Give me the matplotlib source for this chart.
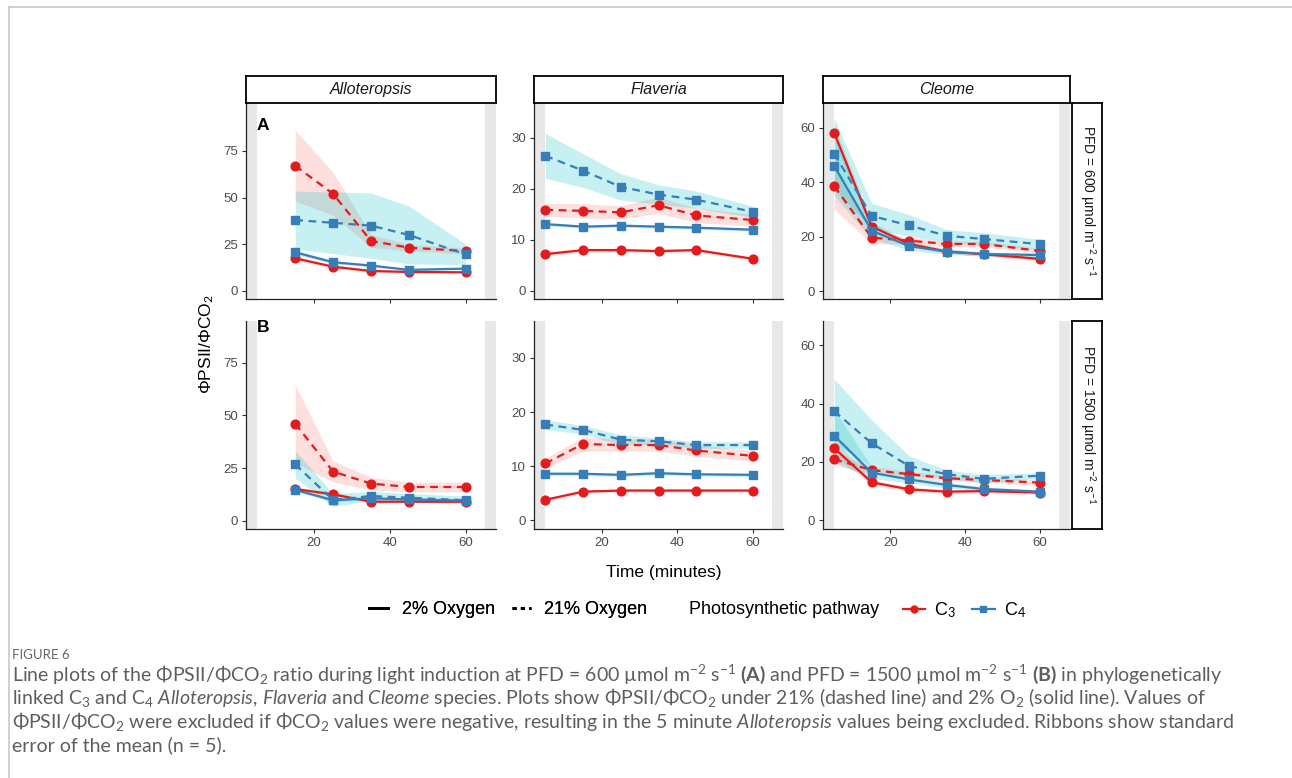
import numpy as np
import matplotlib
matplotlib.use('Agg')
import matplotlib.pyplot as plt
from matplotlib.lines import Line2D

plt.rcParams['font.family'] = ['Liberation Sans', 'DejaVu Sans']
plt.rcParams['mathtext.fontset'] = 'custom'
plt.rcParams['mathtext.rm'] = 'Lato'
plt.rcParams['mathtext.it'] = 'Lato:italic'
plt.rcParams['mathtext.bf'] = 'Lato:bold'

W, H = 1292, 778

# time points (minutes); 5 min Alloteropsis values were excluded
times_allo = [15, 25, 35, 45, 60]
times = [5, 15, 25, 35, 45, 60]

# ---- Alloteropsis, PFD 600 ----
allo600_c3_2 = [17.5, 13.0, 10.7, 10.2, 10.0]
allo600_c3_2_se = [1.2, 1.0, 0.6, 0.5, 0.5]
allo600_c3_21 = [67.1, 52.0, 26.8, 23.2, 21.4]
allo600_c3_21_se = [19.0, 11.5, 3.5, 1.8, 1.5]
allo600_c4_2 = [20.7, 15.4, 13.6, 11.3, 12.0]
allo600_c4_2_se = [1.2, 0.8, 0.6, 0.5, 0.6]
allo600_c4_21 = [38.0, 36.5, 35.0, 30.0, 19.6]
allo600_c4_21_se = [15.5, 16.5, 17.5, 15.5, 5.5]

# ---- Alloteropsis, PFD 1500 ----
allo1500_c3_2 = [15.0, 12.5, 9.0, 9.0, 9.0]
allo1500_c3_2_se = [1.0, 1.0, 0.6, 0.5, 0.5]
allo1500_c3_21 = [46.0, 23.3, 17.6, 16.0, 16.0]
allo1500_c3_21_se = [18.5, 5.0, 3.0, 2.3, 2.3]
allo1500_c4_2 = [14.6, 9.7, 10.6, 10.1, 9.5]
allo1500_c4_2_se = [0.8, 0.8, 0.8, 0.7, 0.6]
allo1500_c4_21 = [26.7, 9.8, 11.7, 10.9, 9.7]
allo1500_c4_21_se = [6.5, 3.0, 2.2, 2.0, 2.0]

# ---- Flaveria, PFD 600 ----
flav600_c3_2 = [7.2, 8.0, 8.0, 7.8, 8.0, 6.3]
flav600_c3_2_se = [0.4, 0.4, 0.4, 0.4, 0.4, 0.3]
flav600_c3_21 = [15.9, 15.7, 15.4, 16.8, 14.8, 13.9]
flav600_c3_21_se = [1.3, 1.4, 1.3, 1.6, 1.4, 1.2]
flav600_c4_2 = [13.1, 12.6, 12.8, 12.6, 12.4, 12.0]
flav600_c4_2_se = [0.3, 0.3, 0.3, 0.3, 0.3, 0.3]
flav600_c4_21 = [26.5, 23.6, 20.4, 18.9, 17.9, 15.5]
flav600_c4_21_se = [4.4, 3.3, 2.6, 1.9, 1.7, 1.1]

# ---- Flaveria, PFD 1500 ----
flav1500_c3_2 = [3.8, 5.3, 5.5, 5.5, 5.5, 5.5]
flav1500_c3_2_se = [0.3, 0.3, 0.3, 0.3, 0.3, 0.3]
flav1500_c3_21 = [10.5, 14.1, 13.9, 13.9, 12.9, 11.9]
flav1500_c3_21_se = [0.9, 1.3, 1.1, 1.1, 1.1, 1.0]
flav1500_c4_2 = [8.6, 8.6, 8.4, 8.7, 8.5, 8.4]
flav1500_c4_2_se = [0.3, 0.3, 0.3, 0.3, 0.3, 0.3]
flav1500_c4_21 = [17.7, 16.7, 14.9, 14.6, 13.9, 13.9]
flav1500_c4_21_se = [0.9, 0.8, 0.9, 0.6, 0.6, 0.6]

# ---- Cleome, PFD 600 ----
cleo600_c3_2 = [58.2, 23.7, 17.3, 14.5, 13.5, 11.8]
cleo600_c3_2_se = [3.0, 1.5, 1.0, 0.8, 0.8, 0.7]
cleo600_c3_21 = [38.5, 19.6, 18.5, 17.3, 17.3, 14.7]
cleo600_c3_21_se = [8.5, 2.2, 1.2, 1.0, 1.0, 1.0]
cleo600_c4_2 = [46.0, 22.2, 16.5, 14.5, 13.6, 13.2]
cleo600_c4_2_se = [11.0, 3.0, 1.5, 1.0, 0.8, 0.8]
cleo600_c4_21 = [50.4, 27.6, 24.1, 20.3, 19.1, 17.2]
cleo600_c4_21_se = [13.0, 4.6, 4.0, 2.3, 2.3, 1.8]

# ---- Cleome, PFD 1500 ----
cleo1500_c3_2 = [24.7, 13.0, 10.6, 9.8, 10.0, 9.5]
cleo1500_c3_2_se = [2.5, 1.0, 0.8, 0.7, 0.7, 0.7]
cleo1500_c3_21 = [20.9, 17.2, 15.8, 14.4, 13.8, 12.9]
cleo1500_c3_21_se = [2.0, 1.3, 1.0, 1.0, 0.8, 1.0]
cleo1500_c4_2 = [29.0, 16.3, 14.0, 12.1, 10.7, 9.8]
cleo1500_c4_2_se = [9.0, 2.0, 1.2, 1.0, 0.7, 0.6]
cleo1500_c4_21 = [37.4, 26.4, 18.6, 15.8, 14.2, 15.3]
cleo1500_c4_21_se = [11.0, 8.0, 3.5, 1.4, 1.5, 0.9]

genera = ['Alloteropsis', 'Flaveria', 'Cleome']
pfd_labels = ['PFD = 600 µmol m$^{-2}$ s$^{-1}$', 'PFD = 1500 µmol m$^{-2}$ s$^{-1}$']

LINE = {'C3': '#E41A1C', 'C4': '#377EB8'}
RIBBON = {'C3': '#F8766D', 'C4': '#00BFC4'}
MARK = {'C3': 'o', 'C4': 's'}
LSTY = {'2': '-', '21': (0, (3.5, 2.5))}
GREY = '#E8E8E8'
TXT = '#4D4D4D'

panels = {
    (0, 0): (times_allo, [('C3', '2', allo600_c3_2, allo600_c3_2_se), ('C3', '21', allo600_c3_21, allo600_c3_21_se),
                          ('C4', '2', allo600_c4_2, allo600_c4_2_se), ('C4', '21', allo600_c4_21, allo600_c4_21_se)]),
    (1, 0): (times_allo, [('C3', '2', allo1500_c3_2, allo1500_c3_2_se), ('C3', '21', allo1500_c3_21, allo1500_c3_21_se),
                          ('C4', '2', allo1500_c4_2, allo1500_c4_2_se), ('C4', '21', allo1500_c4_21, allo1500_c4_21_se)]),
    (0, 1): (times, [('C3', '2', flav600_c3_2, flav600_c3_2_se), ('C3', '21', flav600_c3_21, flav600_c3_21_se),
                     ('C4', '2', flav600_c4_2, flav600_c4_2_se), ('C4', '21', flav600_c4_21, flav600_c4_21_se)]),
    (1, 1): (times, [('C3', '2', flav1500_c3_2, flav1500_c3_2_se), ('C3', '21', flav1500_c3_21, flav1500_c3_21_se),
                     ('C4', '2', flav1500_c4_2, flav1500_c4_2_se), ('C4', '21', flav1500_c4_21, flav1500_c4_21_se)]),
    (0, 2): (times, [('C3', '2', cleo600_c3_2, cleo600_c3_2_se), ('C3', '21', cleo600_c3_21, cleo600_c3_21_se),
                     ('C4', '2', cleo600_c4_2, cleo600_c4_2_se), ('C4', '21', cleo600_c4_21, cleo600_c4_21_se)]),
    (1, 2): (times, [('C3', '2', cleo1500_c3_2, cleo1500_c3_2_se), ('C3', '21', cleo1500_c3_21, cleo1500_c3_21_se),
                     ('C4', '2', cleo1500_c4_2, cleo1500_c4_2_se), ('C4', '21', cleo1500_c4_21, cleo1500_c4_21_se)]),
}

ylims = {(0, 0): (-4.45, 100.5), (1, 0): (-4.1, 94.8),
         (0, 1): (-1.65, 36.8), (1, 1): (-1.65, 36.8),
         (0, 2): (-3.05, 69.0), (1, 2): (-3.1, 68.3)}
yticks = [[0, 25, 50, 75], [0, 10, 20, 30], [0, 20, 40, 60]]

col_x = [(246, 496), (534, 783), (823, 1070)]
row_y = [(103.3, 299.3), (321, 529.3)]


def rect(x0, y0, x1, y1):
    return [x0 / W, 1 - y1 / H, (x1 - x0) / W, (y1 - y0) / H]


def strip_axes(fig, r, text, rotation=0, italic=False):
    sax = fig.add_axes(r)
    sax.set_xticks([])
    sax.set_yticks([])
    for s in sax.spines.values():
        s.set_linewidth(1.3)
        s.set_color('black')
    sax.text(0.5, 0.5, text, transform=sax.transAxes, ha='center', va='center',
             rotation=rotation, fontsize=11.5 if rotation == 0 else 10,
             style='italic' if italic else 'normal', color='#1A1A1A')
    return sax


fig = plt.figure(figsize=(W / 100, H / 100), dpi=100)

for (r, c), (t, series) in panels.items():
    x0, x1 = col_x[c]
    y0, y1 = row_y[r]
    ax = fig.add_axes(rect(x0, y0, x1, y1))
    ax.axvspan(0, 5, color=GREY, lw=0, zorder=0)
    ax.axvspan(65, 70, color=GREY, lw=0, zorder=0)
    for grp, oxy, mean, se in series:
        m = np.array(mean)
        s = np.array(se)
        ax.fill_between(t, m - s, m + s, color=RIBBON[grp], alpha=0.22, lw=0, zorder=1)
    for grp, oxy, mean, se in series:
        ax.plot(t, mean, color=LINE[grp], ls=LSTY[oxy], lw=1.6, marker=MARK[grp],
                ms=6.3 if grp == 'C3' else 6.0, zorder=3)
    ax.set_xlim(2, 68)
    ax.set_ylim(*ylims[(r, c)])
    ax.set_xticks([20, 40, 60])
    ax.set_yticks(yticks[c])
    ax.spines['top'].set_visible(False)
    ax.spines['right'].set_visible(False)
    for s in ['left', 'bottom']:
        ax.spines[s].set_linewidth(0.9)
        ax.spines[s].set_color('#222222')
    ax.tick_params(length=3.2, width=0.8, color='#333333', labelcolor=TXT, labelsize=9.5, pad=2.5)
    if r == 0:
        ax.tick_params(labelbottom=False)

    if r == 0:
        strip_axes(fig, rect(x0, 76, x1, 103.3), genera[c], italic=True)
    if c == 2:
        strip_axes(fig, rect(1072, y0, 1102, y1), pfd_labels[r], rotation=270)

# panel letters
fig.text(257 / W, 1 - 125 / H, 'A', fontsize=12.5, fontweight='bold', ha='left', va='center')
fig.text(257 / W, 1 - 327 / H, 'B', fontsize=12.5, fontweight='bold', ha='left', va='center')

# axis titles
fig.text(664 / W, 1 - 573 / H, 'Time (minutes)', fontsize=12.5, ha='center', va='center')
fig.text(207 / W, 1 - 344 / H, 'ΦPSII/ΦCO$_2$', fontsize=12.5, ha='center', va='center', rotation=90)

# legends
ly = 1 - 610 / H
oxy_handles = [Line2D([], [], color='black', lw=2, ls='-'),
               Line2D([], [], color='black', lw=2, ls=(0, (1.5, 1.5)))]
leg1 = fig.legend(oxy_handles, ['2% Oxygen', '21% Oxygen'], loc='center left',
                  bbox_to_anchor=(369 / W, ly), ncol=2, frameon=False, fontsize=13,
                  handlelength=1.05, handletextpad=0.75, columnspacing=0.95,
                  borderpad=0, borderaxespad=0)
fig.text(688.6 / W, ly, 'Photosynthetic pathway', fontsize=13, ha='left', va='center')
path_handles = [Line2D([], [], color=LINE['C3'], lw=1.6, marker='o', ms=5),
                Line2D([], [], color=LINE['C4'], lw=1.6, marker='s', ms=4.5)]
leg2 = fig.legend(path_handles, ['C$_3$', 'C$_4$'], loc='center left',
                  bbox_to_anchor=(902.5 / W, ly), ncol=2, frameon=False, fontsize=13,
                  handlelength=1.25, handletextpad=0.5, columnspacing=0.9,
                  borderpad=0, borderaxespad=0)
fig.add_artist(leg1)

# page frame lines
fig.add_artist(Line2D([9 / W, 1], [1 - 7 / H, 1 - 7 / H], transform=fig.transFigure, color='#C8C8C8', lw=1.2))
fig.add_artist(Line2D([9 / W, 9 / W], [0, 1 - 7 / H], transform=fig.transFigure, color='#C8C8C8', lw=1.2))

# caption
cap = dict(fontsize=14, color='#5E5E5E', family='Lato', ha='left', va='baseline')
fig.text(12 / W, 1 - 659 / H, 'FIGURE 6', fontsize=9.5, color='#666666', family='Lato', ha='left', va='baseline')
lines = [
    r'Line plots of the ΦPSII/ΦCO$_2$ ratio during light induction at PFD = 600 µmol m$^{-2}$ s$^{-1}$ $\mathbf{(A)}$ and PFD = 1500 µmol m$^{-2}$ s$^{-1}$ $\mathbf{(B)}$ in phylogenetically',
    r'linked C$_3$ and C$_4$ $\mathit{Alloteropsis}$, $\mathit{Flaveria}$ and $\mathit{Cleome}$ species. Plots show ΦPSII/ΦCO$_2$ under 21% (dashed line) and 2% O$_2$ (solid line). Values of',
    r'ΦPSII/ΦCO$_2$ were excluded if ΦCO$_2$ values were negative, resulting in the 5 minute $\mathit{Alloteropsis}$ values being excluded. Ribbons show standard',
    'error of the mean (n = 5).',
]
for i, txt in enumerate(lines):
    fig.text(12 / W, 1 - (681 + 23.3 * i) / H, txt, **cap)

fig.savefig('out.png', dpi=100)
